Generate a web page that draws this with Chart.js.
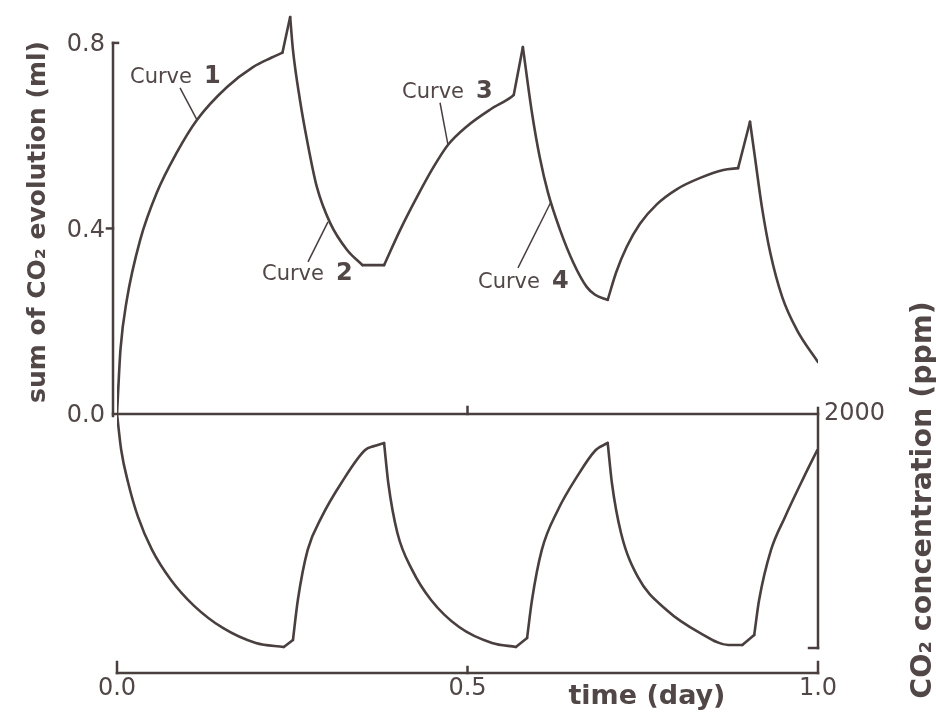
<!DOCTYPE html>
<html>
<head>
<meta charset="utf-8">
<title>CO2 evolution</title>
<script src="https://cdn.jsdelivr.net/npm/chart.js@4.4.1/dist/chart.umd.min.js"></script>
<style>
  html, body { margin: 0; padding: 0; background: #fff; }
  canvas { display: block; }
</style>
</head>
<body>
<canvas id="ChartCO2" width="936" height="716"></canvas>
<script>
// sum of CO2 evolution (ml), curves 1-4 drawn as one trace
var evoTime = [0, 0.002, 0.005, 0.014, 0.033, 0.057, 0.085, 0.114, 0.157, 0.194, 0.22, 0.236,
    0.247, 0.251, 0.261, 0.271, 0.285, 0.304, 0.328, 0.35, 0.381,
    0.404, 0.428, 0.451, 0.472, 0.499, 0.532, 0.563, 0.566,
    0.579, 0.592, 0.603, 0.615, 0.632, 0.651, 0.670, 0.682, 0.70,
    0.712, 0.727, 0.746, 0.770, 0.799, 0.832, 0.865, 0.886,
    0.903, 0.910, 0.920, 0.932, 0.949, 0.970, 1.0];
var evoValue = [0, 0.06, 0.14, 0.246, 0.375, 0.478, 0.563, 0.634, 0.705, 0.748, 0.768, 0.779,
    0.856, 0.785, 0.677, 0.591, 0.49, 0.412, 0.354, 0.321, 0.321,
    0.397, 0.468, 0.531, 0.58, 0.62, 0.656, 0.684, 0.688,
    0.791, 0.649, 0.554, 0.476, 0.397, 0.326, 0.274, 0.257, 0.246,
    0.305, 0.36, 0.41, 0.452, 0.485, 0.509, 0.526, 0.530,
    0.630, 0.554, 0.446, 0.347, 0.252, 0.181, 0.112];
// times where the trace has a sharp corner
var evoCorners = [0.236, 0.247, 0.35, 0.381, 0.566, 0.579, 0.70, 0.886, 0.903];

// CO2 concentration (ppm)
var concTime = [0, 0.006, 0.016, 0.030, 0.050, 0.077, 0.110, 0.151, 0.198, 0.238, 0.251,
    0.258, 0.272, 0.292, 0.320, 0.354, 0.367, 0.381,
    0.387, 0.400, 0.421, 0.448, 0.488, 0.535, 0.569, 0.585,
    0.592, 0.606, 0.629, 0.656, 0.683, 0.700,
    0.706, 0.719, 0.743, 0.784, 0.832, 0.872, 0.892, 0.909,
    0.916, 0.933, 0.953, 0.980, 0.999];
var concValue = [2000, 1692, 1410, 1120, 838, 581, 360, 171, 43, 9, 68,
    410, 838, 1120, 1410, 1692, 1726, 1752,
    1410, 983, 667, 410, 179, 43, 9, 85,
    410, 838, 1179, 1462, 1692, 1752,
    1410, 983, 607, 325, 128, 26, 26, 111,
    410, 838, 1120, 1462, 1692];
var concCorners = [0.238, 0.251, 0.381, 0.569, 0.585, 0.700, 0.892, 0.909];

var evoTicks = [0, 0.4, 0.8];
var evoTickLabels = ["0.0", "0.4", "0.8"];
var timeTicks = [0, 0.5, 1];
var timeTickLabels = ["0.0", "0.5", "1.0"];
var concTicks = [2000];
var concTickLabels = ["2000"];

// curve labels: name, label anchor (day, ml), leader from / to (day, ml)
var curveNames = ["1", "2", "3", "4"];
var curveLabelAt = [[0.0185, 0.714], [0.2068, 0.289], [0.4066, 0.681], [0.515, 0.272]];
var curveLeader = [
    [[0.0899, 0.703], [0.1141, 0.634]],
    [[0.2725, 0.328], [0.301, 0.414]],
    [[0.4608, 0.671], [0.4722, 0.58]],
    [[0.572, 0.315], [0.619, 0.457]]
];

var INK = '#4a3f3f';
var TEXT = '#524747';

// one dataset per smooth piece, so corners stay sharp
function SplitAt(xs, ys, corners, axisId, name) {
    var sets = [];
    var pts = [];
    xs.forEach(function (t, i) {
        pts.push({ x: t, y: ys[i] });
        if (corners.indexOf(t) >= 0 && i > 0) {
            sets.push(pts);
            pts = [{ x: t, y: ys[i] }];
        }
    });
    if (pts.length > 1) sets.push(pts);
    return sets.map(function (p, k) {
        return {
            label: name + " " + (k + 1),
            data: p,
            yAxisID: axisId,
            borderColor: INK,
            borderWidth: 2.6,
            borderCapStyle: 'round',
            borderJoinStyle: 'round',
            pointRadius: 0,
            cubicInterpolationMode: 'monotone',
            fill: false
        };
    });
}

var decor = {
    id: 'decor',
    afterDraw: function (chart) {
        var ctx = chart.ctx;
        var sx = chart.scales.x, sy = chart.scales.y, sc = chart.scales.y2;
        var px = function (v) { return sx.getPixelForValue(v); };
        var py = function (v) { return sy.getPixelForValue(v); };
        var pc = function (v) { return sc.getPixelForValue(v); };
        var line = function (a, b, c, d) { ctx.beginPath(); ctx.moveTo(a, b); ctx.lineTo(c, d); ctx.stroke(); };

        ctx.save();
        ctx.strokeStyle = INK;
        ctx.lineWidth = 2.5;
        ctx.lineCap = 'square';

        var xl = px(0) - 4, xr = px(1);
        // left axis (ml)
        line(xl, py(0) + 2, xl, py(0.8));
        line(xl, py(0.8), xl + 5, py(0.8));
        line(xl - 6, py(0.4), xl, py(0.4));
        // zero line between the two panels
        line(xl, py(0), xr, py(0));
        line(px(0.5), py(0), px(0.5), py(0) - 7);
        // right axis (ppm)
        line(xr, pc(2000) - 6, xr, pc(0));
        line(xr - 9, pc(0), xr, pc(0));
        // time axis
        var yb = chart.chartArea.bottom;
        line(px(0), yb, xr, yb);
        line(px(0), yb, px(0), yb - 11);
        line(px(0.5), yb, px(0.5), yb - 6);
        line(px(1), yb, px(1), yb - 11);

        // tick labels
        ctx.fillStyle = TEXT;
        ctx.font = '24px "DejaVu Sans"';
        ctx.textAlign = 'right';
        ctx.textBaseline = 'middle';
        evoTicks.forEach(function (v, i) { ctx.fillText(evoTickLabels[i], xl - 8, py(v) + 2); });
        ctx.textAlign = 'left';
        concTicks.forEach(function (v, i) { ctx.fillText(concTickLabels[i], xr + 6, pc(v)); });
        ctx.textAlign = 'center';
        ctx.textBaseline = 'top';
        timeTicks.forEach(function (v, i) { ctx.fillText(timeTickLabels[i], px(v), yb + 4); });

        // axis titles
        ctx.font = 'bold 27px "DejaVu Sans"';
        ctx.textBaseline = 'alphabetic';
        ctx.fillText('time (day)', px(0.756), yb + 31);

        ctx.save();
        ctx.translate(45, 222);
        ctx.rotate(-Math.PI / 2);
        ctx.font = 'bold 25px "DejaVu Sans"';
        ctx.textBaseline = 'alphabetic';
        ctx.fillText('sum of CO\u2082 evolution (ml)', 0, 0);
        ctx.restore();

        ctx.save();
        ctx.translate(931, 500);
        ctx.rotate(-Math.PI / 2);
        ctx.font = 'bold 28.5px "DejaVu Sans"';
        ctx.textBaseline = 'alphabetic';
        ctx.fillText('CO\u2082 concentration (ppm)', 0, 0);
        ctx.restore();

        // curve labels with leaders
        ctx.lineWidth = 1.5;
        ctx.lineCap = 'butt';
        ctx.textAlign = 'left';
        ctx.textBaseline = 'alphabetic';
        curveNames.forEach(function (n, i) {
            var lx = px(curveLabelAt[i][0]), ly = py(curveLabelAt[i][1]);
            ctx.font = '21px "DejaVu Sans"';
            ctx.fillText('Curve', lx, ly);
            var w = ctx.measureText('Curve').width;
            ctx.font = 'bold 24px "DejaVu Sans"';
            ctx.fillText(n, lx + w + 12, ly);
            var a = curveLeader[i][0], b = curveLeader[i][1];
            line(px(a[0]), py(a[1]), px(b[0]), py(b[1]));
        });
        ctx.restore();
    }
};

var ctx = document.getElementById('ChartCO2').getContext('2d');

var graph = new Chart(ctx, {
    type: 'line',
    data: {
        datasets: SplitAt(evoTime, evoValue, evoCorners, 'y', "sum of CO2 evolution")
            .concat(SplitAt(concTime, concValue, concCorners, 'y2', "CO2 concentration"))
    },
    options: {
        responsive: false,
        animation: false,
        layout: { padding: { left: 117, right: 118, top: 10, bottom: 43 } },
        plugins: { legend: { display: false }, tooltip: { enabled: false } },
        scales: {
            x: { type: 'linear', min: 0, max: 1, display: false },
            // 0.0 ml sits on the panel divider, 0.8 ml near the top
            y: { type: 'linear', min: -0.5585, max: 0.871, display: false },
            // 2000 ppm on the divider, 0 ppm at the lower bracket
            y2: { type: 'linear', min: -213.7, max: 5452, display: false }
        }
    },
    plugins: [decor]
});
</script>
</body>
</html>
